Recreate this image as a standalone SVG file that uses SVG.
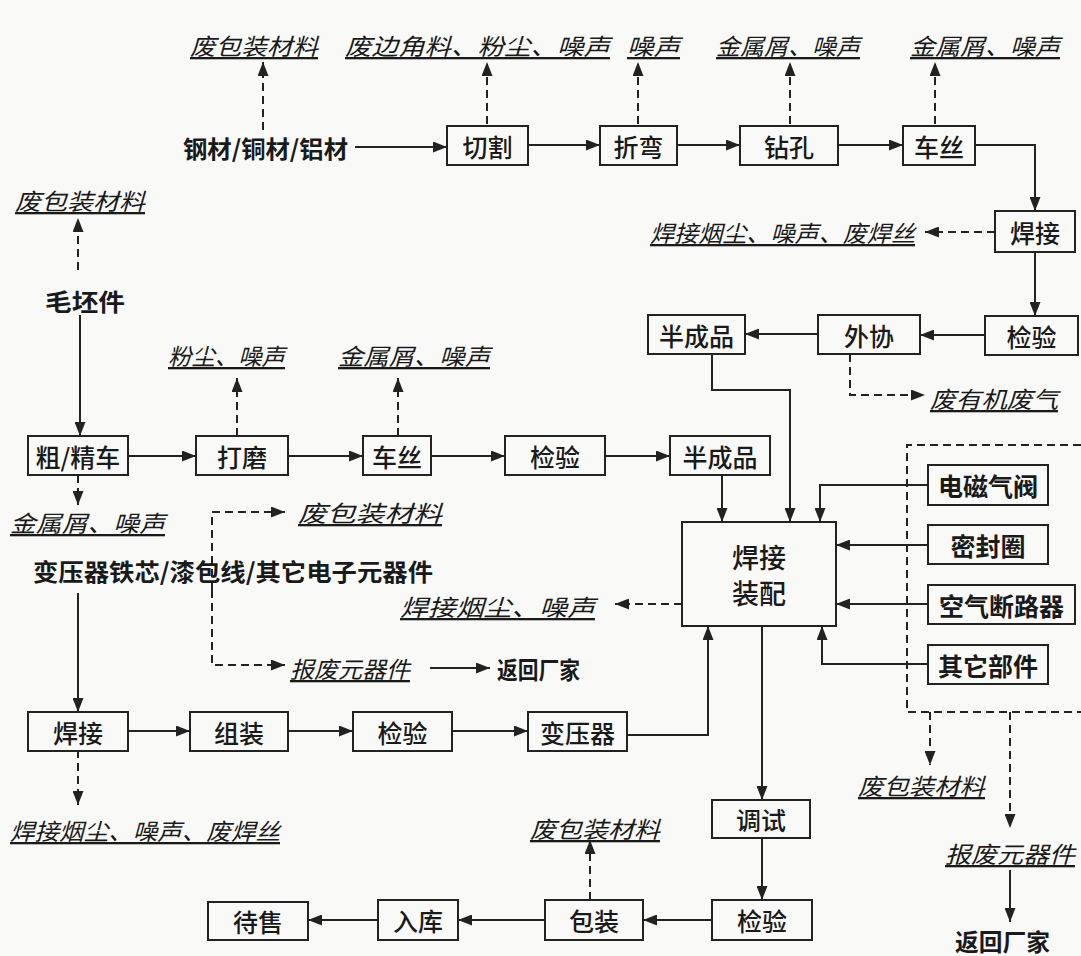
<svg xmlns="http://www.w3.org/2000/svg" width="1081" height="956" viewBox="0 0 1081 956">
<defs>
<marker id="ah" viewBox="0 0 14 11" refX="14" refY="5.5" markerWidth="14" markerHeight="11" orient="auto" markerUnits="userSpaceOnUse"><path d="M0,0 L14,5.5 L0,11 z" fill="#222"/></marker>
<style>
.bx{fill:none;stroke:#222;stroke-width:2}
.ln{fill:none;stroke:#222;stroke-width:2;marker-end:url(#ah)}
.pl{fill:none;stroke:#222;stroke-width:2}
.ds{fill:none;stroke:#222;stroke-width:2;stroke-dasharray:8 5;marker-end:url(#ah)}
.dp{fill:none;stroke:#222;stroke-width:2;stroke-dasharray:8 5}
text{font-family:"Noto Sans CJK SC","Noto Sans",sans-serif;fill:#1a1a1a;dominant-baseline:central}
.t{font-size:25px;font-weight:500;text-anchor:middle}
.m{font-size:24px;font-weight:bold}
.lb{font-size:23px;font-style:italic;text-decoration:underline}
</style>
</defs>
<rect width="1081" height="956" fill="#f9f9f8"/>

<g id="connectors">
<path class="ln" d="M355,147 H447"/>
<path class="ln" d="M528,145 H600"/>
<path class="ln" d="M677,145 H740"/>
<path class="ln" d="M838,145 H903"/>
<path class="ln" d="M975,145 H1035 V211"/>
<path class="ln" d="M1035,252 V316"/>
<path class="ln" d="M985,335 H920"/>
<path class="ln" d="M818,334 H745"/>
<path class="ln" d="M712,354 V390 H790 V522"/>
<path class="ln" d="M80,315 V436"/>
<path class="ln" d="M128,456 H196"/>
<path class="ln" d="M288,456 H363"/>
<path class="ln" d="M431,456 H505"/>
<path class="ln" d="M605,456 H670"/>
<path class="ln" d="M722,475 V522"/>
<path class="ln" d="M928,485 H820 V522"/>
<path class="ln" d="M928,545 H836"/>
<path class="ln" d="M928,604 H836"/>
<path class="ln" d="M928,664 H822 V626"/>
<path class="ln" d="M78,593 V712"/>
<path class="ln" d="M128,731 H190"/>
<path class="ln" d="M288,731 H353"/>
<path class="ln" d="M452,731 H528"/>
<path class="ln" d="M627,735 H708 V626"/>
<path class="ln" d="M762,626 V800"/>
<path class="ln" d="M762,838 V900"/>
<path class="ln" d="M712,920 H643"/>
<path class="ln" d="M545,920 H458"/>
<path class="ln" d="M378,920 H308"/>
<path class="ln" d="M430,668 H490"/>
<path class="ln" d="M1010,870 V922"/>

<path class="ds" d="M263,130 V62"/>
<path class="ds" d="M487,124 V62"/>
<path class="ds" d="M638,124 V62"/>
<path class="ds" d="M790,124 V62"/>
<path class="ds" d="M935,124 V62"/>
<path class="ds" d="M995,232 H925"/>
<path class="ds" d="M850,354 V395 H925"/>
<path class="ds" d="M78,270 V218"/>
<path class="ds" d="M237,436 V378"/>
<path class="ds" d="M398,436 V378"/>
<path class="ds" d="M78,475 V505"/>
<path class="ds" d="M212,590 V512 H285"/>
<path class="ds" d="M212,590 V665 H285"/>
<path class="ds" d="M682,604 H615"/>
<path class="ds" d="M78,750 V805"/>
<path class="ds" d="M590,900 V840"/>
<path class="dp" d="M1081,445 H907 V712 H1081"/>
<path class="ds" d="M930,712 V765"/>
<path class="ds" d="M1010,712 V828"/>
</g>

<g id="n-gangcai"><text class="m" x="183" y="147" textLength="165" lengthAdjust="spacingAndGlyphs">钢材/铜材/铝材</text></g>
<g id="n-qiege"><rect class="bx" x="447" y="126" width="81" height="39"/><text class="t" x="487.5" y="146">切割</text></g>
<g id="n-zhewan"><rect class="bx" x="600" y="126" width="77" height="39"/><text class="t" x="638.5" y="146">折弯</text></g>
<g id="n-zuankong"><rect class="bx" x="740" y="126" width="98" height="39"/><text class="t" x="789" y="146">钻孔</text></g>
<g id="n-chesi1"><rect class="bx" x="903" y="126" width="72" height="39"/><text class="t" x="939" y="146">车丝</text></g>
<g id="n-hanjie1"><rect class="bx" x="995" y="211" width="80" height="41"/><text class="t" x="1035" y="232">焊接</text></g>
<g id="n-jianyan1"><rect class="bx" x="985" y="316" width="93" height="39"/><text class="t" x="1031.5" y="336">检验</text></g>
<g id="n-waixie"><rect class="bx" x="818" y="315" width="102" height="39"/><text class="t" x="869" y="335">外协</text></g>
<g id="n-banchengpin1"><rect class="bx" x="648" y="315" width="97" height="39"/><text class="t" x="696.5" y="335">半成品</text></g>

<g id="n-maopijian"><text class="m" x="45" y="300" textLength="80" lengthAdjust="spacingAndGlyphs">毛坯件</text></g>
<g id="n-cujingche"><rect class="bx" x="28" y="436" width="100" height="39"/><text class="t" x="78" y="456">粗/精车</text></g>
<g id="n-damo"><rect class="bx" x="196" y="436" width="92" height="39"/><text class="t" x="242" y="456">打磨</text></g>
<g id="n-chesi2"><rect class="bx" x="363" y="436" width="68" height="39"/><text class="t" x="397" y="456">车丝</text></g>
<g id="n-jianyan2"><rect class="bx" x="505" y="436" width="100" height="39"/><text class="t" x="555" y="456">检验</text></g>
<g id="n-banchengpin2"><rect class="bx" x="670" y="436" width="100" height="39"/><text class="t" x="720" y="456">半成品</text></g>

<g id="n-hanjiezhuangpei"><rect class="bx" x="682" y="522" width="154" height="104"/><text class="t" x="759" y="556" style="font-size:27px">焊接</text><text class="t" x="759" y="592" style="font-size:27px">装配</text></g>
<g id="n-dianci"><rect class="bx" x="928" y="465" width="120" height="40"/><text class="t" x="988" y="485" style="font-weight:bold">电磁气阀</text></g>
<g id="n-mifeng"><rect class="bx" x="928" y="525" width="120" height="39"/><text class="t" x="988" y="545" style="font-weight:bold">密封圈</text></g>
<g id="n-kongqi"><rect class="bx" x="928" y="585" width="147" height="39"/><text class="t" x="1001.5" y="605" style="font-weight:bold">空气断路器</text></g>
<g id="n-qita"><rect class="bx" x="928" y="645" width="120" height="39"/><text class="t" x="988" y="665" style="font-weight:bold">其它部件</text></g>

<g id="n-bianyaqi-tx"><text class="m" x="33" y="570" textLength="400" lengthAdjust="spacingAndGlyphs">变压器铁芯/漆包线/其它电子元器件</text></g>
<g id="n-hanjie2"><rect class="bx" x="28" y="712" width="100" height="39"/><text class="t" x="78" y="732">焊接</text></g>
<g id="n-zuzhuang"><rect class="bx" x="190" y="712" width="98" height="39"/><text class="t" x="239" y="732">组装</text></g>
<g id="n-jianyan3"><rect class="bx" x="353" y="712" width="99" height="39"/><text class="t" x="402.5" y="732">检验</text></g>
<g id="n-bianyaqi"><rect class="bx" x="528" y="712" width="99" height="39"/><text class="t" x="577.5" y="732">变压器</text></g>

<g id="n-tiaoshi"><rect class="bx" x="712" y="800" width="98" height="38"/><text class="t" x="761" y="819">调试</text></g>
<g id="n-jianyan4"><rect class="bx" x="712" y="900" width="100" height="40"/><text class="t" x="762" y="920">检验</text></g>
<g id="n-baozhuang"><rect class="bx" x="545" y="900" width="98" height="40"/><text class="t" x="594" y="920">包装</text></g>
<g id="n-ruku"><rect class="bx" x="378" y="900" width="80" height="40"/><text class="t" x="418" y="920">入库</text></g>
<g id="n-daishou"><rect class="bx" x="208" y="902" width="100" height="38"/><text class="t" x="258" y="921">待售</text></g>

<g id="n-fanhui1"><text class="m" x="497" y="668" textLength="83" lengthAdjust="spacingAndGlyphs">返回厂家</text></g>
<g id="n-fanhui2"><text class="m" x="955" y="940" textLength="95" lengthAdjust="spacingAndGlyphs">返回厂家</text></g>

<g id="labels">
<text class="lb" x="190" y="45" textLength="128" lengthAdjust="spacingAndGlyphs">废包装材料</text>
<text class="lb" x="345" y="45" textLength="265" lengthAdjust="spacingAndGlyphs">废边角料、粉尘、噪声</text>
<text class="lb" x="627" y="45" textLength="53" lengthAdjust="spacingAndGlyphs">噪声</text>
<text class="lb" x="716" y="45" textLength="144" lengthAdjust="spacingAndGlyphs">金属屑、噪声</text>
<text class="lb" x="910" y="45" textLength="150" lengthAdjust="spacingAndGlyphs">金属屑、噪声</text>
<text class="lb" x="15" y="200" textLength="130" lengthAdjust="spacingAndGlyphs">废包装材料</text>
<text class="lb" x="650" y="232" textLength="265" lengthAdjust="spacingAndGlyphs">焊接烟尘、噪声、废焊丝</text>
<text class="lb" x="930" y="398" textLength="128" lengthAdjust="spacingAndGlyphs">废有机废气</text>
<text class="lb" x="168" y="355" textLength="117" lengthAdjust="spacingAndGlyphs">粉尘、噪声</text>
<text class="lb" x="338" y="355" textLength="152" lengthAdjust="spacingAndGlyphs">金属屑、噪声</text>
<text class="lb" x="10" y="522" textLength="155" lengthAdjust="spacingAndGlyphs">金属屑、噪声</text>
<text class="lb" x="298" y="512" textLength="144" lengthAdjust="spacingAndGlyphs">废包装材料</text>
<text class="lb" x="290" y="668" textLength="120" lengthAdjust="spacingAndGlyphs">报废元器件</text>
<text class="lb" x="400" y="606" textLength="195" lengthAdjust="spacingAndGlyphs">焊接烟尘、噪声</text>
<text class="lb" x="10" y="830" textLength="270" lengthAdjust="spacingAndGlyphs">焊接烟尘、噪声、废焊丝</text>
<text class="lb" x="530" y="828" textLength="130" lengthAdjust="spacingAndGlyphs">废包装材料</text>
<text class="lb" x="858" y="785" textLength="127" lengthAdjust="spacingAndGlyphs">废包装材料</text>
<text class="lb" x="945" y="853" textLength="130" lengthAdjust="spacingAndGlyphs">报废元器件</text>
</g>
</svg>
